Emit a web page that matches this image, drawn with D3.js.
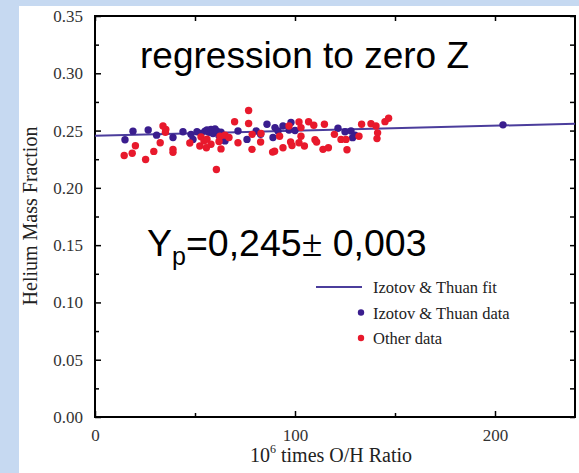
<!DOCTYPE html>
<html>
<head>
<meta charset="utf-8">
<script src="https://cdn.jsdelivr.net/npm/d3@7"></script>
<style>
  body { margin: 0; background: #c6d9f1; }
  svg { display: block; }
</style>
</head>
<body>
<script>
let width = 579;
let height = 473;

// Izotov & Thuan data: [O/H x 1e6, Y]
var izotovData = [
  [15, 0.242], [19, 0.2495], [26.6, 0.2505], [30.8, 0.246], [39, 0.244], [44, 0.249],
  [49, 0.2423], [48, 0.2467], [51, 0.249], [53, 0.2475], [55, 0.2495], [56, 0.2505],
  [57, 0.2485], [58, 0.251], [59, 0.2475], [60, 0.2515], [61, 0.2495], [62, 0.2455],
  [63, 0.2485], [65, 0.241], [71.5, 0.2496], [76, 0.2423], [80.6, 0.2496], [82.8, 0.2467],
  [86, 0.2555], [89, 0.244], [90, 0.2526], [91.5, 0.2496], [94, 0.254], [98, 0.257],
  [97, 0.2505], [100, 0.25], [121.5, 0.252], [125, 0.249], [128, 0.2496], [128.8, 0.2438],
  [130, 0.246], [204, 0.255]
];

// other data
var otherData = [
  [14.6, 0.2283], [18.6, 0.2302], [20.2, 0.2368], [25.3, 0.2248], [29.4, 0.2318],
  [32.6, 0.2394], [34, 0.254], [35.4, 0.251], [35.2, 0.2485], [39, 0.2336], [39, 0.231],
  [47.4, 0.2391], [52.4, 0.2365], [53, 0.2445], [55.7, 0.235], [54.5, 0.241], [56, 0.2425],
  [58, 0.238], [60.7, 0.216], [62, 0.2405], [63, 0.234], [62.5, 0.245], [65, 0.246],
  [67, 0.244], [69.8, 0.2577], [71.5, 0.2394], [76.8, 0.2675], [76.8, 0.2562], [78.5, 0.2336],
  [78.6, 0.2467], [82.8, 0.24], [83, 0.2475], [88.8, 0.2312], [89.8, 0.232], [92.3, 0.245],
  [94, 0.235], [97, 0.254], [97.8, 0.24], [98.5, 0.237], [102, 0.2575], [103, 0.2526],
  [102, 0.2394], [103, 0.245], [104.7, 0.2365], [106.8, 0.2577], [109.4, 0.2546], [110, 0.242],
  [110.8, 0.24], [114.7, 0.2555], [114, 0.2336], [116.7, 0.235], [119.7, 0.2467], [123, 0.2423],
  [125.5, 0.2423], [126, 0.2333], [132, 0.245], [133.3, 0.2555], [138, 0.256], [140.5, 0.254],
  [141.3, 0.248], [141, 0.243], [145, 0.2578], [146.8, 0.2607]
];

// fit line endpoints
var fitX = [0, 240];
var fitY = [0.2455, 0.256];

var xTicks = [0, 100, 200];
var xMinor = [50, 150];
var yTicks = [0, 0.05, 0.10, 0.15, 0.20, 0.25, 0.30, 0.35];
var yMinor = [0.025, 0.075, 0.125, 0.175, 0.225, 0.275, 0.325];

var legendLabels = ['Izotov & Thuan fit', 'Izotov & Thuan data', 'Other data'];

let blue = '#3a1d8e';
let red = '#e8192c';
let lineColor = '#4b3d9c';
let serif = '"Liberation Serif", "Times New Roman", serif';
let sans = '"Liberation Sans", Arial, sans-serif';

var svg = d3.select('body')
            .append('svg')
            .attr('width', width)
            .attr('height', height);

// white panel
svg.append('rect').attr('x', 19).attr('y', 6).attr('width', width - 19).attr('height', height - 6)
   .attr('fill', '#fff');

var x = d3.scaleLinear().domain([0, 240]).range([95, 575]);
var y = d3.scaleLinear().domain([0, 0.35]).range([417, 16]);

function drawAxis(axis, transform) {
  var g = svg.append('g').attr('transform', transform).call(axis);
  g.select('.domain').remove();
  g.selectAll('line').attr('stroke', '#000').attr('stroke-width', 1.5);
  g.selectAll('text').attr('font-family', serif).attr('font-size', 17).attr('fill', '#333');
  return g;
}

// major and minor ticks on all four sides
drawAxis(d3.axisBottom(x).tickValues(xTicks).tickSize(-6).tickPadding(12).tickFormat(d3.format('d')),
         'translate(0,' + y(0) + ')');
drawAxis(d3.axisBottom(x).tickValues(xMinor).tickSize(-4).tickFormat(''), 'translate(0,' + y(0) + ')');
drawAxis(d3.axisTop(x).tickValues(xTicks.concat(xMinor)).tickSize(-5).tickFormat(''), 'translate(0,' + y(0.35) + ')');

drawAxis(d3.axisLeft(y).tickValues(yTicks).tickSize(-6).tickPadding(12).tickFormat(d3.format('.2f')),
         'translate(' + x(0) + ',0)');
drawAxis(d3.axisLeft(y).tickValues(yMinor).tickSize(-4).tickFormat(''), 'translate(' + x(0) + ',0)');
drawAxis(d3.axisRight(y).tickValues(yTicks.concat(yMinor)).tickSize(-5).tickFormat(''), 'translate(' + x(240) + ',0)');

// frame
svg.append('rect').attr('x', x(0)).attr('y', y(0.35))
   .attr('width', x(240) - x(0)).attr('height', y(0) - y(0.35))
   .attr('fill', 'none').attr('stroke', '#000').attr('stroke-width', 2);

// fit line
svg.append('line')
   .attr('x1', x(fitX[0])).attr('y1', y(fitY[0]))
   .attr('x2', x(fitX[1])).attr('y2', y(fitY[1]))
   .attr('stroke', lineColor).attr('stroke-width', 2);

svg.append('g').selectAll('circle').data(izotovData).enter().append('circle')
   .attr('cx', d => x(d[0])).attr('cy', d => y(d[1])).attr('r', 3.7).attr('fill', blue);

svg.append('g').selectAll('circle').data(otherData).enter().append('circle')
   .attr('cx', d => x(d[0])).attr('cy', d => y(d[1])).attr('r', 3.7).attr('fill', red);

// axis titles
svg.append('text').attr('transform', 'translate(37,216) rotate(-90)')
   .attr('text-anchor', 'middle').attr('font-family', serif).attr('font-size', 20).attr('fill', '#222')
   .text('Helium Mass Fraction');

var xt = svg.append('text').attr('x', 250).attr('y', 462)
   .attr('font-family', serif).attr('font-size', 20).attr('fill', '#222');
xt.append('tspan').text('10');
xt.append('tspan').attr('dy', -9).attr('font-size', 12).text('6');
xt.append('tspan').attr('dy', 9).text(' times O/H Ratio');

// legend
var legend = svg.append('g').attr('font-family', serif).attr('font-size', 16.5).attr('fill', '#222');
legendLabels.forEach(function(label, i) {
  var ly = 287 + i * 25.5;
  if (i === 0) {
    legend.append('line').attr('x1', 316).attr('x2', 362).attr('y1', ly).attr('y2', ly)
          .attr('stroke', lineColor).attr('stroke-width', 2);
  } else {
    legend.append('circle').attr('cx', 361).attr('cy', ly).attr('r', 3.2).attr('fill', i === 1 ? blue : red);
  }
  legend.append('text').attr('x', 373).attr('y', ly + 6).text(label);
});

// annotations
svg.append('text').attr('x', 140).attr('y', 68)
   .attr('font-family', sans).attr('font-size', 37).attr('fill', '#000')
   .text('regression to zero Z');

var yp = svg.append('text').attr('x', 147).attr('y', 256)
   .attr('font-family', sans).attr('font-size', 37.5).attr('fill', '#000');
yp.append('tspan').text('Y');
yp.append('tspan').attr('dy', 9).attr('font-size', 25).text('p');
yp.append('tspan').attr('dy', -9).text('=0,245');
yp.append('tspan').attr('font-family', serif).text('±');
yp.append('tspan').text(' 0,003');
</script>
</body>
</html>
